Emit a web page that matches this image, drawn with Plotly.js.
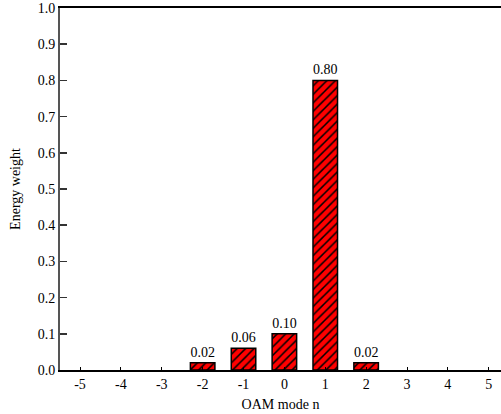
<!DOCTYPE html>
<html><head><meta charset="utf-8">
<script src="https://cdn.plot.ly/plotly-3.0.1.min.js"></script>
<style>html,body{margin:0;padding:0;background:#fff;overflow:hidden}#chart{width:501px;height:414px}</style>
</head><body><div id="chart"></div>
<script>
const modes = [-5,-4,-3,-2,-1,0,1,2,3,4,5];
const weights = [0,0,0,0.02,0.06,0.10,0.80,0.02,0,0,0];
const labels = weights.map(v => v > 0 ? v.toFixed(2) : '');
const yTicks = [0,0.1,0.2,0.3,0.4,0.5,0.6,0.7,0.8,0.9,1.0];
const yTickText = yTicks.map(v => v.toFixed(1));

const font = {family: 'Liberation Serif', size: 14, color: '#000'};

const trace = {
  type: 'bar', x: modes, y: weights, width: 0.6,
  text: labels, textposition: 'outside', cliponaxis: false,
  textfont: font,
  marker: {color: '#ff0000', line: {color: '#000', width: weights.map(v => v > 0 ? 1.5 : 0)},
    pattern: {shape: '/', fgcolor: '#000', bgcolor: '#ff0000', size: 6, solidity: 0.25}},
  hoverinfo: 'none'
};

const layout = {
  width: 501, height: 414,
  margin: {l: 60, r: 0, t: 8, b: 44},
  paper_bgcolor: '#fff', plot_bgcolor: '#fff',
  font: font, showlegend: false, bargap: 0,
  xaxis: {range: [-5.49, 5.30], tickvals: modes, ticktext: modes.map(String),
    ticks: 'inside', ticklen: 3, tickwidth: 1, tickcolor: '#000',
    showline: true, linecolor: '#000', linewidth: 2, mirror: true,
    showgrid: false, zeroline: false, tickfont: font,
    title: {text: 'OAM mode n', font: font, standoff: 8}},
  yaxis: {range: [0, 1.0], tickvals: yTicks, ticktext: yTickText,
    ticks: 'inside', ticklen: 7, tickwidth: 1.5, tickcolor: '#333',
    showline: true, linecolor: '#555', linewidth: 2, mirror: false,
    showgrid: false, zeroline: false, tickfont: font,
    title: {text: 'Energy weight', font: font, standoff: 14}}
};

Plotly.newPlot('chart', [trace], layout, {displayModeBar: false, staticPlot: true});
</script></body></html>
